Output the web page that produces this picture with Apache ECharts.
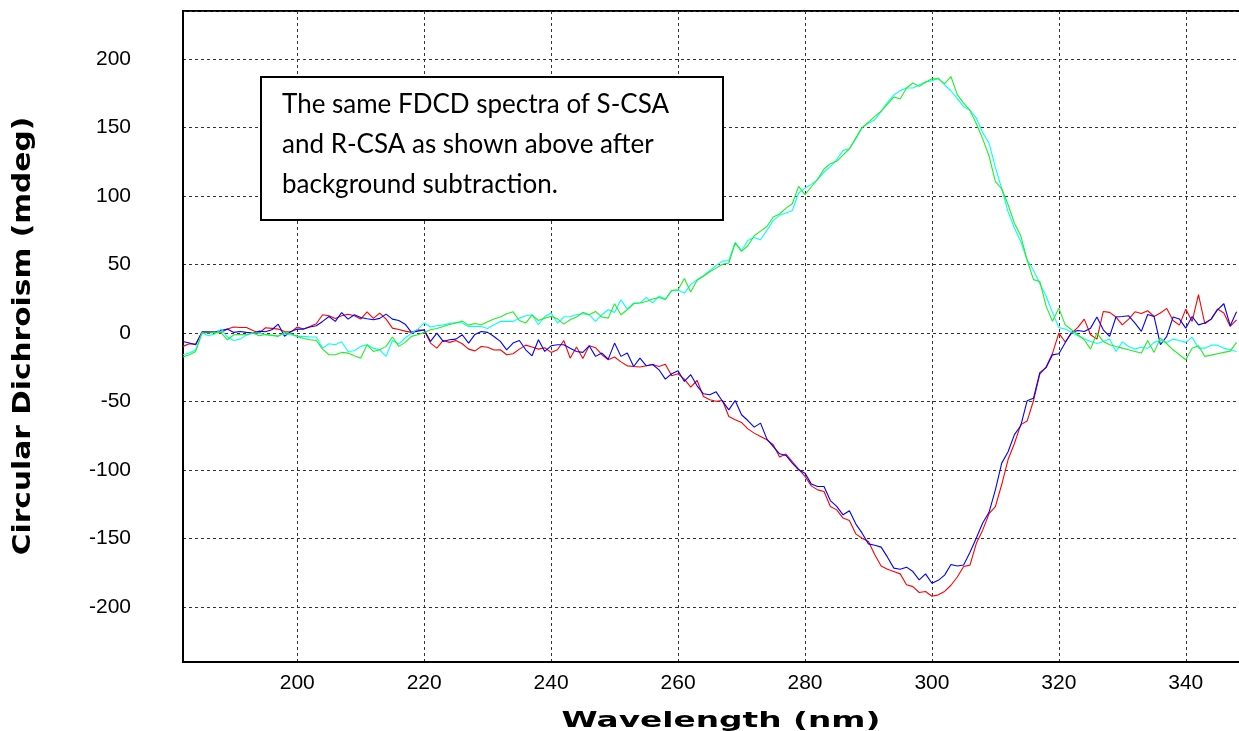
<!DOCTYPE html>
<html>
<head>
<meta charset="utf-8">
<script src="https://cdn.jsdelivr.net/npm/echarts@6/dist/echarts.min.js"></script>
<style>
  html, body { margin: 0; padding: 0; background: #fff; }
  #chart { width: 1239px; height: 731px; }
</style>
</head>
<body>
<div id="chart"></div>
<script>
// Wavelength grid of the FDCD scans (nm)
const wavelengths = [
  182,183,184,185,186,187,188,189,190,191,192,193,194,195,196,197,198,199,
  200,201,202,203,204,205,206,207,208,209,210,211,212,213,214,215,216,217,218,219,
  220,221,222,223,224,225,226,227,228,229,230,231,232,233,234,235,236,237,238,239,
  240,241,242,243,244,245,246,247,248,249,250,251,252,253,254,255,256,257,258,259,
  260,261,262,263,264,265,266,267,268,269,270,271,272,273,274,275,276,277,278,279,
  280,281,282,283,284,285,286,287,288,289,290,291,292,293,294,295,296,297,298,299,
  300,301,302,303,304,305,306,307,308,309,310,311,312,313,314,315,316,317,318,319,
  320,321,322,323,324,325,326,327,328,329,330,331,332,333,334,335,336,337,338,339,
  340,341,342,343,344,345,346,347,348
];

// Circular dichroism, mdeg — red trace
const cdRed = [
  -9.7,-7.8,-8,0.5,0.7,0.7,0.5,2.9,4.4,4.1,4.1,1.9,0,3.9,3.4,2.9,1.2,0.7,
  4.4,2.9,4.8,6.8,13.4,12.6,10.7,12.6,13.8,12.6,10.2,15.5,10.7,14.6,10.2,3.6,2.6,1.4,0.5,2.4,
  1.9,-7.3,-11,-5.4,-6.8,-5.4,-7.8,-11.7,-13,-9.8,-10.3,-12.4,-12.2,-15.8,-15.1,-11.7,-8.8,-10.2,-11.7,-10.7,
  -14.1,-12.2,-5.4,-18.3,-10.2,-18.5,-9.3,-10.7,-15.8,-19.5,-17.5,-21,-23.9,-24.4,-24.8,-23.9,-22.9,-24.4,-22.7,-31.2,
  -29.7,-33.6,-39.4,-34.6,-46.3,-48.7,-49.7,-49.2,-60.9,-63.3,-65.2,-69.9,-73,-75.4,-77.9,-81.5,-90.5,-88.3,-93.7,-99.3,
  -104.6,-111.5,-114.4,-115.6,-126.5,-129,-135,-136.8,-146.5,-149.7,-152.1,-161.8,-169.9,-172.3,-174,-175.7,-183.7,-185,-189.3,-188.6,
  -192,-191,-188.5,-184,-178,-170.3,-169.3,-153.4,-143.8,-131.8,-126.6,-110.5,-92.3,-80.6,-66.8,-64.2,-49.4,-29.9,-24.7,-14.8,
  0,-6.5,0,4.1,10.2,-1.2,-4.4,15.8,15.1,11.7,6,10.2,15.5,14.3,16.3,12.1,14.6,18,9.2,5.8,
  17.5,8.5,28,6.8,10.2,17.5,14.6,4.8,9.7
];

// Circular dichroism, mdeg — blue trace
const cdBlue = [
  -6.1,-7.3,-8.5,1,0.7,0.7,1.9,2.9,0.5,1.2,0.5,0,1.4,1,2.4,6.5,-2.4,1.2,
  2.9,2.9,4.4,5.3,8.5,12.1,8.5,15,10.2,13.4,11.4,10.4,9.7,10.7,13.8,10.2,9.2,6.5,0.5,1.4,
  2.4,-6.1,0,-6.1,-4.9,-4.4,-1.2,-7.3,-1,1.2,0.5,-2.5,-6.1,-12.2,-7.3,-5.4,-12.2,-16.6,-4.9,-13.4,
  -9.3,-8.5,-8.5,-11,-13.4,-14.1,-9.3,-17,-14.6,-19,-7.3,-17,-14.6,-24.4,-18.3,-23.9,-22.9,-26.8,-33.6,-29.7,
  -27.5,-35.3,-30.4,-38.5,-44.3,-45,-42.9,-49.7,-56,-49.2,-59.6,-63.8,-68.6,-65.7,-77.4,-82.8,-88.1,-89.3,-94.9,-99.8,
  -102.2,-110.2,-112,-112,-122.2,-126.5,-132.6,-129.7,-139.2,-146,-153.8,-154.8,-156.2,-163.5,-171.5,-172.3,-170.8,-174,-180.1,-175.7,
  -182.5,-180.4,-176.6,-168.8,-170,-169.2,-159.9,-149.5,-138.6,-130.8,-114.4,-94.9,-86.6,-74.1,-67.6,-49.4,-47.6,-28.9,-25.2,-15.9,
  -15.1,-7,0.5,1.9,1.2,3.6,11.7,2.4,-2.4,11.7,12.1,12.6,7.3,1.2,13.6,12.1,-8.5,-2.4,11.7,10.2,
  3.6,12.1,6,7.3,10.2,17,21.4,5.4,15.5
];

// Circular dichroism, mdeg — green trace
const cdGreen = [
  -17.5,-15.8,-13.4,0,0,0.5,0.2,-4.9,-1.2,-1,-1.2,0,-1.9,-1,-1.5,-2.4,0.5,-0.5,
  -2.4,-3.9,-4.9,-5.4,-11.7,-15.8,-15.8,-14.1,-14.6,-16.5,-18.3,-8.5,-13.4,-12.2,-9.7,-2.9,-9.7,-6.8,-2.4,-1.2,
  0.5,2.4,3.4,4.8,6.3,7.3,8.7,5.8,7,6.1,8.2,10.2,11.7,14.1,15.5,9.2,7.3,13.1,9.2,10.9,
  12.1,10.4,6.5,9.7,11.7,15.1,13.4,15.8,11.7,10.9,21.4,13.4,17,21.4,21.9,23.1,24.8,26,24.5,31,
  31.6,39.8,30,38.5,41.5,44.7,47.4,50.2,51.1,65.7,59.6,63.7,71,74.4,77.8,84.7,86.9,91.2,94.4,107,
  101,106.6,112.4,119.7,123.6,125.3,129.9,134.5,142.3,149.9,153.8,158.1,162,167.1,172.2,170.8,178.8,182.5,180,183,
  185.6,185.5,182,187.2,174,167.8,162.5,152.7,141.7,129.2,110.5,105.3,93.6,80.1,71,53.3,39,37.7,19.5,8.6,
  18.2,6,2.4,-1.2,-4.9,-11.7,0,-6.1,-8.5,-9.8,-11,-12.2,-13.4,-14.6,-5.4,-14.1,-3.7,-7.8,-12.2,-15.8,
  -19.5,-11,-9.3,-17,-16.1,-15.1,-14.1,-13.2,-6.8
];

// Circular dichroism, mdeg — cyan trace
const cdCyan = [
  -15.8,-14.6,-12.2,0.5,-1.9,-0.7,2.9,-2.9,-5.4,-4.4,-1.5,0,0,-1.2,-1.9,-1.9,-0.5,-1.2,
  -2.4,-2.4,-2.9,-2.9,-11,-7.8,-8.5,-6.3,-13.4,-12.9,-9.7,-8.5,-11,-12.2,-17,-5.4,-8,-3.6,0,2.9,
  7.3,4.4,5.3,6,7,7.7,7.3,4.8,5,4.8,3.4,6.1,8.5,8.5,8.5,10.9,12.6,13.4,6.1,12.1,
  14.6,7.3,11.7,12.1,13.4,14.1,13.4,8.5,13.4,17,15.1,24.3,17.5,21.9,21.9,26,22,27,24.8,31,
  31.2,29.2,35.5,38.9,41.8,45.5,49.2,52.5,53,66.2,60.1,67.6,69.8,68.1,74.9,82.2,85.9,87.6,89.3,102.2,
  105.8,108.5,111.9,117.5,121.4,126.5,133.3,134.3,141.6,149.9,153,155.7,161.8,168.4,173.7,176.9,178.8,178.8,181,183.4,
  184,186.2,181,176.8,171,165.2,162.5,156.8,146.4,138.6,120.9,105.3,88.4,76.7,66.8,53.3,46,36,27,15,
  4,3,0.5,-2,-4.2,-6.1,-7.6,-6.1,-4.4,-13.4,-6.4,-9.8,-11.7,-10.2,-11.2,-6.8,-5.4,-6.8,-4.4,-5.4,
  -6.8,-3,-11,-11,-8.8,-8.8,-11,-12.2,-13.4
];

// Labelled tick values
const xTickLabels = [200, 220, 240, 260, 280, 300, 320, 340];
const yTickLabels = [-200, -150, -100, -50, 0, 50, 100, 150, 200];

const xTitle = 'Wavelength (nm)';
const yTitle = 'Circular Dichroism (mdeg)';
const noteLines = [
  'The same FDCD spectra of S-CSA',
  'and R-CSA as shown above after',
  'background subtraction.'
];

const pairs = vals => wavelengths.map((w, i) => [w, vals[i]]);

const traces = [
  { name: 'red', color: '#ff0000', values: cdRed },
  { name: 'blue', color: '#0000ff', values: cdBlue },
  { name: 'cyan', color: '#00ffff', values: cdCyan },
  { name: 'green', color: '#22ee22', values: cdGreen }
];

const chart = echarts.init(document.getElementById('chart'), null, { renderer: 'canvas' });

const labelFont = { color: '#000', fontSize: 21, fontFamily: 'Liberation Sans, Arial, sans-serif' };
const titleFont = 'bold 25px "DejaVu Sans", sans-serif';
const gridLine = { show: true, lineStyle: { color: '#333', width: 1, type: [3, 3] } };

chart.setOption({
  backgroundColor: '#fff',
  animation: false,
  grid: {
    left: 183, right: -2, top: 11, bottom: 69,
    outerBoundsMode: 'none',
    containLabel: false,
    show: true, borderColor: '#000', borderWidth: 2, backgroundColor: 'transparent'
  },
  xAxis: {
    type: 'value',
    min: 182, max: 348.7,
    splitNumber: 8,
    axisLine: { show: true, onZero: false, lineStyle: { color: '#000', width: 2 } },
    axisTick: { show: false },
    axisLabel: {
      ...labelFont,
      margin: 11,
      formatter: v => (xTickLabels.includes(Math.round(v * 1000) / 1000) ? String(v) : '')
    },
    splitLine: gridLine
  },
  yAxis: {
    type: 'value',
    min: -240, max: 235,
    splitNumber: 10,
    axisLine: { show: true, onZero: false, lineStyle: { color: '#000', width: 2 } },
    axisTick: { show: false },
    axisLabel: {
      ...labelFont,
      margin: 52,
      formatter: v => (yTickLabels.includes(Math.round(v * 1000) / 1000) ? String(v) : '')
    },
    splitLine: gridLine
  },
  series: traces.map(t => ({
    name: t.name,
    type: 'line',
    data: pairs(t.values),
    showSymbol: false,
    symbol: 'none',
    lineStyle: { color: t.color, width: 1.1 },
    itemStyle: { color: t.color },
    z: 3
  })),
  graphic: [
    // axis titles, widened to the instrument software's spaced lettering
    {
      type: 'text',
      x: 721, y: 721,
      scaleX: 1.49,
      style: { text: xTitle, font: 'bold 22px "DejaVu Sans", sans-serif', fill: '#000', align: 'center', verticalAlign: 'middle' }
    },
    {
      type: 'text',
      x: 23, y: 336,
      rotation: Math.PI / 2,
      scaleX: 1.186,
      style: { text: yTitle, font: titleFont, fill: '#000', align: 'center', verticalAlign: 'middle' }
    },
    // annotation box
    {
      type: 'rect',
      left: 260, top: 76,
      shape: { width: 462, height: 143 },
      style: { fill: '#fff', stroke: '#000', lineWidth: 2 },
      z: 10
    },
    {
      type: 'text',
      left: 282, top: 85,
      style: {
        text: noteLines.join('\n'),
        fill: '#000',
        font: '26px Lato, "Open Sans", sans-serif',
        lineHeight: 40
      },
      z: 11
    }
  ]
});
</script>
</body>
</html>
